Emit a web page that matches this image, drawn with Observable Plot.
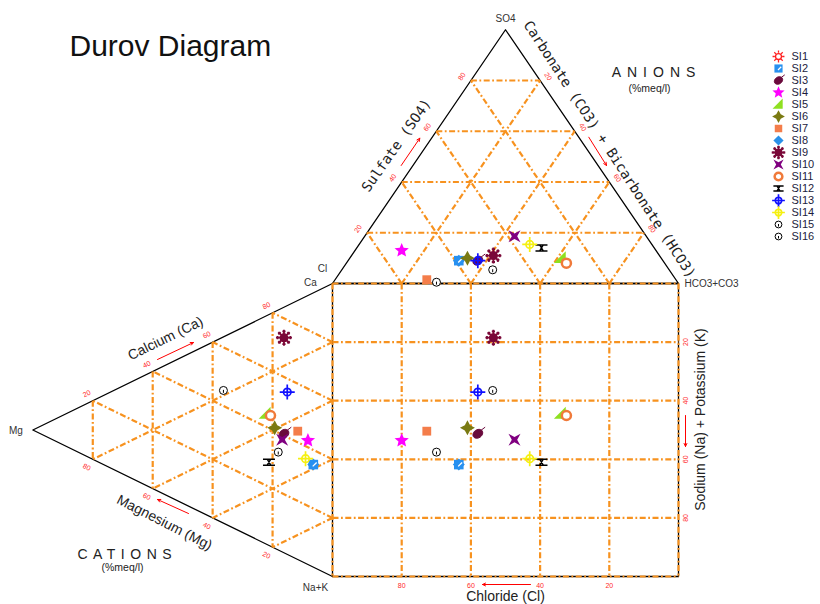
<!DOCTYPE html>
<html><head><meta charset="utf-8">
<script src="https://cdn.jsdelivr.net/npm/d3@7"></script>
<script src="https://cdn.jsdelivr.net/npm/@observablehq/plot@0.6"></script>
<style>
body{margin:0;background:#fff}
#wrap{position:relative;width:820px;height:604px;overflow:hidden}
#legend{position:absolute;left:760px;top:35px}
</style>
</head><body><div id="wrap"></div>
<script>
// ---- data (percent meq/l) ----
const samples = ["SI1","SI2","SI3","SI4","SI5","SI6","SI7","SI8","SI9","SI10","SI11","SI12","SI13","SI14","SI15","SI16"];
// anions
const so4  = [11, 9, 9, 13, 10, 10, 1.5, 9, 11, 18.6, 8, 14, 9, 15.4, 5.4, 0.5];
const hco3 = [41, 32, 37.5, 13.5, 61, 34, 26.5, 32, 41, 43.3, 63.6, 53.4, 37.5, 49.3, 43.6, 29.8];
const cl   = [48, 59, 53.5, 73.5, 29, 56, 72, 59, 48, 38.1, 28.4, 32.6, 53.5, 35.3, 51, 69.7];
// cations
const ca   = [73.4, 35, 40.6, 42.3, 44.4, 41.1, 43.8, 35, 73.4, 38.3, 44.6, 28.4, 55.4, 35.7, 45.3, 33.4];
const mg   = [16.2, 6.4, 16.2, 8.2, 22.3, 19.3, 11.6, 6.4, 16.2, 16.8, 20.7, 21.2, 15.1, 9, 36.4, 18.1];
const nak  = [10.4, 58.6, 43.2, 49.5, 33.3, 39.6, 44.6, 58.6, 10.4, 44.9, 34.7, 50.4, 29.5, 55.3, 18.3, 48.5];
const ticks = [20, 40, 60, 80];

// ---- geometry ----
const X0 = 332, XW = 346, Y0 = 283, YH = 293;
const H = Math.sqrt(3) / 2;
const T = (s, h) => ({x: h + 0.5 * s, y: -H * s});          // anion triangle (SO4, HCO3)
const L = (m, n) => ({x: -H * m, y: n + 0.5 * m});          // cation triangle (Mg, Na+K)
const inv = (px, py) => ({x: (px - X0) / XW, y: (py - Y0) / YH});
const seg = (a, b) => ({x1: a.x, y1: a.y, x2: b.x, y2: b.y});

const grid = [];
for (const t of ticks) {
  const k = t / 100;
  grid.push(seg(T(k, 0), T(k, 1 - k)));
  grid.push(seg(T(0, k), T(1 - k, k)));
  grid.push(seg(T(0, 1 - k), T(1 - k, 0)));
  grid.push(seg(L(k, 0), L(k, 1 - k)));
  grid.push(seg(L(0, 1 - k), L(1 - k, 0)));
  grid.push(seg(L(0, k), L(1 - k, k)));
}
for (const t of [0, ...ticks, 100]) {
  const k = t / 100;
  grid.push(seg({x: k, y: 0}, {x: k, y: 1}));
  grid.push(seg({x: 0, y: k}, {x: 1, y: k}));
}
const frames = [
  ...[T(0,0), T(0,1), T(1,0), T(0,0)].map(p => ({...p, z: "a"})),
  ...[{x:0,y:0},{x:1,y:0},{x:1,y:1},{x:0,y:1},{x:0,y:0}].map(p => ({...p, z: "s"})),
  ...[L(0,0), L(1,0), L(0,1)].map(p => ({...p, z: "c"}))
];

const rows = samples.flatMap((s, i) => {
  const t = T(so4[i] / 100, hco3[i] / 100);
  const l = L(mg[i] / 100, nak[i] / 100);
  return [{s, x: t.x, y: t.y}, {s, x: l.x, y: l.y}, {s, x: t.x, y: l.y}];
});

// ---- custom symbols ----
const sym = f => ({draw(c, size) { f(c, Math.sqrt(size / Math.PI)); }});
const poly = (c, p) => { c.moveTo(p[0][0], p[0][1]); for (const q of p.slice(1)) c.lineTo(q[0], q[1]); c.closePath(); };
const circ = (c, r) => { c.moveTo(r, 0); c.arc(0, 0, r, 0, 2 * Math.PI); };
const SYM = {
  sun: sym((c, r) => { circ(c, r * 0.5); for (let k = 0; k < 8; k++) { const t = k * Math.PI / 4; c.moveTo(Math.cos(t) * r * 0.62, Math.sin(t) * r * 0.62); c.lineTo(Math.cos(t) * r, Math.sin(t) * r); } }),
  square: sym((c, r) => { const a = r * 0.8; c.rect(-a, -a, 2 * a, 2 * a); }),
  ellipse: sym((c, r) => { const p = [], th = -0.6; for (let k = 0; k < 24; k++) { const t = k / 24 * 2 * Math.PI, ex = Math.cos(t) * r * 0.75, ey = Math.sin(t) * r * 0.58; p.push([ex * Math.cos(th) - ey * Math.sin(th), ex * Math.sin(th) + ey * Math.cos(th)]); } poly(c, p); c.moveTo(r * 0.45, -r * 0.5); c.lineTo(r * 1.05, -r * 0.95); }),
  star: sym((c, r) => { const p = []; for (let k = 0; k < 10; k++) { const a = -Math.PI / 2 + k * Math.PI / 5, q = k % 2 ? r * 0.45 : r; p.push([Math.cos(a) * q, Math.sin(a) * q]); } poly(c, p); }),
  rtri: sym((c, r) => poly(c, [[-r, r * 0.7], [r * 0.7, r * 0.7], [r * 0.7, -r]])),
  spark: sym((c, r) => poly(c, [[0,-r],[0.35*r,-0.35*r],[r,0],[0.35*r,0.35*r],[0,r],[-0.35*r,0.35*r],[-r,0],[-0.35*r,-0.35*r]])),
  diamond: sym((c, r) => poly(c, [[0,-r],[r,0],[0,r],[-r,0]])),
  flake: sym((c, r) => { circ(c, r * 0.45); for (let k = 0; k < 8; k++) { const t = k * Math.PI / 4, co = Math.cos(t), si = Math.sin(t); c.moveTo(co * r * 0.4, si * r * 0.4); c.lineTo(co * r, si * r); c.moveTo(co * r * 0.8 - si * r * 0.2, si * r * 0.8 + co * r * 0.2); c.lineTo(co * r * 0.8 + si * r * 0.2, si * r * 0.8 - co * r * 0.2); } }),
  bow: sym((c, r) => poly(c, [[-r,-r],[0,-0.45*r],[r,-r],[0.45*r,0],[r,r],[0,0.45*r],[-r,r],[-0.45*r,0]])),
  ring: sym((c, r) => circ(c, r * 0.7)),
  ibeam: sym((c, r) => { c.moveTo(-r, -0.5*r); c.lineTo(r, -0.5*r); c.moveTo(-r, 0.5*r); c.lineTo(r, 0.5*r); c.moveTo(-0.3*r, -0.5*r); c.lineTo(0.3*r, 0.5*r); c.moveTo(0.3*r, -0.5*r); c.lineTo(-0.3*r, 0.5*r); }),
  xhair: sym((c, r) => { circ(c, r * 0.5); c.moveTo(-r, 0); c.lineTo(r, 0); c.moveTo(0, -r); c.lineTo(0, r); }),
  info: sym((c, r) => { circ(c, r); c.moveTo(0, -0.15 * r); c.lineTo(0, 0.6 * r); }),
  slash: sym((c, r) => { c.moveTo(-0.1 * r, 0.3 * r); c.lineTo(0.55 * r, -0.35 * r); })
};
const style = {
  SI1:  {symbol: SYM.sun, fill: "white", stroke: "#ff2020", strokeWidth: 1.3, r: 7},
  SI2:  {symbol: SYM.square, fill: "#2790f0", stroke: "none", r: 6},
  SI3:  {symbol: SYM.ellipse, fill: "#6a0a3c", stroke: "#6a0a3c", strokeWidth: 1, r: 7},
  SI4:  {symbol: SYM.star, fill: "#ff00ff", stroke: "none", r: 7.5},
  SI5:  {symbol: SYM.rtri, fill: "#8fe020", stroke: "none", r: 7},
  SI6:  {symbol: SYM.spark, fill: "#7a7a12", stroke: "none", r: 7.5},
  SI7:  {symbol: SYM.square, fill: "#f47d4a", stroke: "none", r: 5.5},
  SI8:  {symbol: SYM.diamond, fill: "#2a90e8", stroke: "none", r: 6},
  SI9:  {symbol: SYM.flake, fill: "#7a0838", stroke: "#7a0838", strokeWidth: 1.8, r: 8},
  SI10: {symbol: SYM.bow, fill: "#800080", stroke: "none", r: 6},
  SI11: {symbol: SYM.ring, fill: "white", stroke: "#f07a3a", strokeWidth: 2.5, r: 6.5},
  SI12: {symbol: SYM.ibeam, fill: "none", stroke: "black", strokeWidth: 1.4, r: 6},
  SI13: {symbol: SYM.xhair, fill: "none", stroke: "#1010ff", strokeWidth: 1.7, r: 7.5},
  SI14: {symbol: SYM.xhair, fill: "none", stroke: "#f5f010", strokeWidth: 1.7, r: 7.5},
  SI15: {symbol: SYM.info, fill: "white", stroke: "black", strokeWidth: 1, r: 4},
  SI16: {symbol: SYM.info, fill: "white", stroke: "black", strokeWidth: 1, r: 4}
};
const drawOrder = ["SI1", "SI8", ...samples.filter(s => s !== "SI1" && s !== "SI8")];

const ORANGE = "#f7921f", RED = "#ff2a2a", INK = "#222";
const SANS = "Liberation Sans, Arial, sans-serif", MONO = "DejaVu Sans Mono, monospace";

const pointMarks = drawOrder.flatMap(s => {
  const st = style[s];
  const ms = [Plot.dot(rows.filter(d => d.s === s), {x: "x", y: "y", ...st})];
  if (s === "SI2") ms.push(Plot.dot(rows.filter(d => d.s === s), {x: "x", y: "y", symbol: SYM.slash, r: 6, stroke: "white", strokeWidth: 1.3, fill: "none"}));
  return ms;
});

// tick label positions
const kk = ticks.map(t => ({t, k: t / 100}));
const tb = kk.map(({t, k}) => ({x: k, y: 1, text: String(100 - t)}));
const tr = kk.map(({t, k}) => ({x: 1, y: k, text: String(t)}));
const tal = kk.map(({t, k}) => ({...T(k, 0), text: String(t)}));
const tar = kk.map(({t, k}) => ({...T(1 - k, k), text: String(t)}));
const tcu = kk.map(({t, k}) => ({...L(1 - k, 0), text: String(t)}));
const tcl = kk.map(({t, k}) => ({...L(k, 1 - k), text: String(t)}));
const tk = (data, o) => Plot.text(data, {x: "x", y: "y", text: "text", fill: RED, fontSize: 7, fontFamily: SANS, ...o});

const corner = [
  {...T(1, 0), text: "SO4", dx: 0, dy: -11, anchor: "middle"},
  {x: 0, y: 0, text: "Cl", dx: -10, dy: -15, anchor: "middle"},
  {x: 0, y: 0, text: "Ca", dx: -22, dy: -1, anchor: "middle"},
  {...L(1, 0), text: "Mg", dx: -10, dy: 1, anchor: "end"},
  {x: 0, y: 1, text: "Na+K", dx: -17, dy: 11, anchor: "middle"},
  {x: 1, y: 0, text: "HCO3+CO3", dx: 6, dy: 0, anchor: "start"}
];

const arrows = [
  [400.7, 165, 419.3, 137.7], [588.3, 136.7, 606, 165], [157, 359, 193, 342],
  [188, 513, 157, 499], [530, 584, 482, 584], [685, 415, 685, 446]
].map(([a, b, c, d]) => { const p = inv(a, b), q = inv(c, d); return {x1: p.x, y1: p.y, x2: q.x, y2: q.y}; });

const sansTitles = [
  {...inv(165, 338), text: "Calcium (Ca)", rotate: -26},
  {...inv(164, 522), text: "Magnesium (Mg)", rotate: 27},
  {...inv(505, 596), text: "Chloride (Cl)", rotate: 0},
  {...inv(700, 419), text: "Sodium (Na) + Potassium (K)", rotate: -90}
];
const monoTitles = [
  {...inv(396, 145), text: "Sulfate (SO4)", rotate: -55},
  {...inv(609, 149), text: "Carbonate (CO3) + Bicarbonate (HCO3)", rotate: 57}
];
const groupTitles = [
  {...inv(653, 72), text: "ANIONS"},
  {...inv(124, 554), text: "CATIONS"}
];
const units = [
  {...inv(649, 88), text: "(%meq/l)"},
  {...inv(122, 567), text: "(%meq/l)"}
];

const chart = Plot.plot({
  width: 820, height: 604, margin: 0,
  x: {domain: [0, 1], range: [X0, X0 + XW], axis: null},
  y: {domain: [0, 1], range: [Y0, Y0 + YH], axis: null},
  style: {background: "white", overflow: "visible"},
  marks: [
    Plot.line(frames, {x: "x", y: "y", z: "z", stroke: "black", strokeWidth: 1.3}),
    Plot.link(grid, {x1: "x1", y1: "y1", x2: "x2", y2: "y2", stroke: ORANGE, strokeWidth: 2.2, strokeDasharray: "6,2.5,1.8,2.5"}),
    tk(tb, {dy: 9}),
    tk(tr, {dx: 7, rotate: -90}),
    tk(tal, {dx: -9, dy: -4, rotate: -56}),
    tk(tar, {dx: 8, dy: -4, rotate: 56}),
    tk(tcu, {dx: -6, dy: -7, rotate: -26}),
    tk(tcl, {dx: -6, dy: 8, rotate: 26}),
    ...corner.map(c => Plot.text([c], {x: "x", y: "y", text: "text", dx: c.dx, dy: c.dy, textAnchor: c.anchor, fontSize: 10, fontFamily: SANS, fill: "#333"})),
    Plot.arrow(arrows, {x1: "x1", y1: "y1", x2: "x2", y2: "y2", stroke: "red", strokeWidth: 1, headLength: 5, headAngle: 50}),
    Plot.text(sansTitles, {x: "x", y: "y", text: "text", rotate: "rotate", fontSize: 14, fontFamily: SANS, fill: INK}),
    Plot.text(monoTitles, {x: "x", y: "y", text: "text", rotate: "rotate", fontSize: 14, fontFamily: MONO, fill: INK}),
    Plot.text(groupTitles, {x: "x", y: "y", text: "text", fontSize: 14, fontFamily: SANS, fill: INK}),
    Plot.text(units, {x: "x", y: "y", text: "text", fontSize: 10.5, fontFamily: SANS, fill: INK}),
    Plot.text(["Durov Diagram"], {text: d => d, frameAnchor: "top-left", dx: 69, dy: 55, lineAnchor: "bottom", textAnchor: "start", fontSize: 30, fontFamily: SANS, fill: "#111"}),
    ...pointMarks
  ]
});
// letter-spaced group titles
d3.select(chart).selectAll("text").filter(function() { return this.textContent === "ANIONS"; }).attr("letter-spacing", 6).attr("dx", 3);
d3.select(chart).selectAll("text").filter(function() { return this.textContent === "CATIONS"; }).attr("letter-spacing", 5.5).attr("dx", 2.75);
document.getElementById("wrap").appendChild(chart);

// ---- legend ----
const legend = Plot.plot({
  width: 60, height: 215, margin: 0,
  y: {type: "point", domain: samples, range: [14, 207], axis: null},
  style: {background: "transparent"},
  marks: [
    ...samples.map(s => Plot.dot([s], {y: d => d, frameAnchor: "left", dx: 18, ...style[s], r: style[s].r * 0.85})),
    Plot.dot(["SI2"], {y: d => d, frameAnchor: "left", dx: 18, symbol: SYM.slash, r: 5, stroke: "white", strokeWidth: 1.2, fill: "none"}),
    Plot.text(samples, {y: d => d, text: d => d, frameAnchor: "left", dx: 31, textAnchor: "start", fontSize: 11, fontFamily: SANS, fill: "#1c1c3c"})
  ]
});
legend.id = "legend";
document.getElementById("wrap").appendChild(legend);
</script></body></html>
